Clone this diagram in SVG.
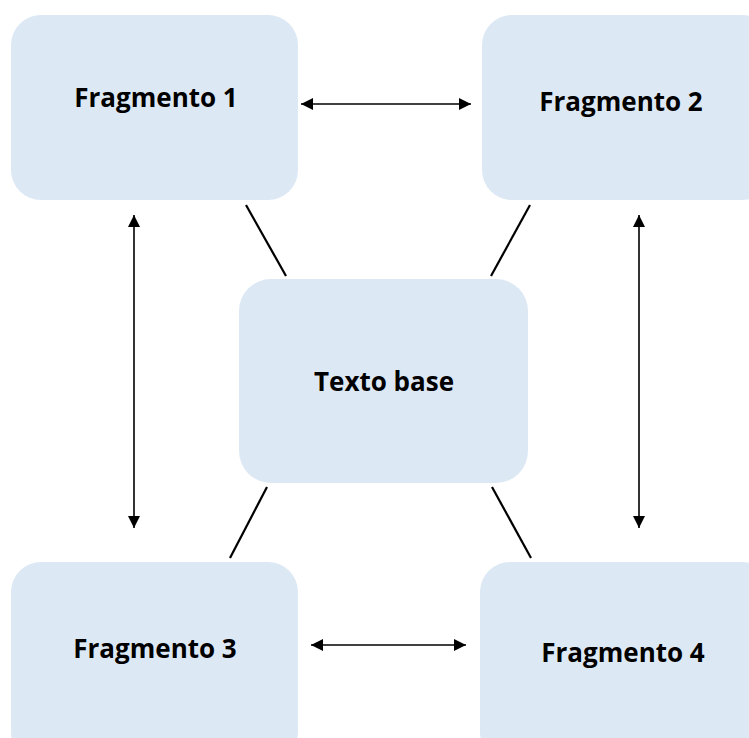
<svg xmlns="http://www.w3.org/2000/svg" width="749" height="738" viewBox="0 0 749 738">
<style>
.box{fill:#dde8f5;}
.lbl{font-family:"Open Sans","Noto Sans","Liberation Sans",sans-serif;font-weight:bold;font-size:26px;fill:#000;text-anchor:middle;}
.ln{stroke:#000;stroke-width:2.2;fill:none;}
.ar{stroke:#000;stroke-width:1.6;fill:none;marker-start:url(#ah);marker-end:url(#ah);}
</style>
<defs>
<marker id="ah" viewBox="0 0 10 10" refX="10" refY="5" markerWidth="14" markerHeight="12" markerUnits="userSpaceOnUse" orient="auto-start-reverse">
<path d="M0,0 L10,5 L0,10 Z" fill="#000"/>
</marker>
</defs>
<rect width="749" height="738" fill="#fff"/>
<g id="frag1"><rect class="box" x="11" y="15" width="287" height="185" rx="30"/><text class="lbl" x="156" y="107">Fragmento 1</text></g>
<g id="frag2"><rect class="box" x="482" y="15" width="290" height="185" rx="30"/><text class="lbl" x="621" y="111">Fragmento 2</text></g>
<g id="texto"><rect class="box" x="239" y="279" width="289" height="204" rx="32"/><text class="lbl" x="384" y="391">Texto base</text></g>
<g id="frag3"><rect class="box" x="11" y="562" width="287" height="200" rx="30"/><text class="lbl" x="155" y="658">Fragmento 3</text></g>
<g id="frag4"><rect class="box" x="480" y="562" width="292" height="200" rx="30"/><text class="lbl" x="623" y="662">Fragmento 4</text></g>
<g id="connectors">
<line class="ln" x1="246" y1="205" x2="286" y2="276"/>
<line class="ln" x1="530" y1="205" x2="491" y2="276"/>
<line class="ln" x1="267" y1="487" x2="230" y2="558"/>
<line class="ln" x1="492" y1="487" x2="531" y2="558"/>
<line class="ar" x1="301" y1="104" x2="471" y2="104"/>
<line class="ar" x1="311" y1="645" x2="466" y2="645"/>
<line class="ar" x1="134" y1="215" x2="134" y2="528"/>
<line class="ar" x1="639" y1="215" x2="639" y2="528"/>
</g>
</svg>
